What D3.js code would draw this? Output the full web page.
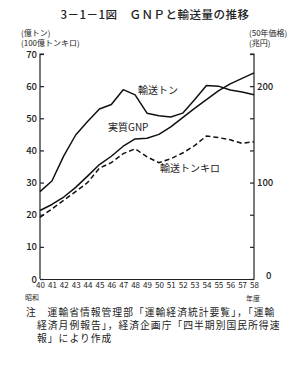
<!DOCTYPE html>
<html>
<head>
<meta charset="utf-8">
<script src="https://cdn.jsdelivr.net/npm/d3@7"></script>
<style>
  body { margin: 0; background: #fff; }
  text { font-family: "Noto Sans CJK JP", "DejaVu Sans", sans-serif; fill: #222; }
</style>
</head>
<body>
<div id="chart"></div>
<script>
// 昭和 fiscal years
const years = [40, 41, 42, 43, 44, 45, 46, 47, 48, 49, 50, 51, 52, 53, 54, 55, 56, 57, 58];
// 輸送トン (億トン)
const tonnage = [27.2, 30.5, 38.3, 44.8, 49, 52.9, 54.3, 58.9, 57.3, 51.6, 50.8, 50.4, 51.6, 55.8, 60.2, 60, 58.8, 58.2, 57.3];
// 輸送トンキロ (100億トンキロ)
const tonKm = [19.2, 21.8, 24.5, 27.2, 30, 34.5, 36.2, 39, 40.5, 38, 36.2, 37.4, 39.2, 41.5, 44.5, 44, 43.3, 42.2, 42.7];
// 実質GNP (50年価格 兆円)
const gnp = [71, 77.3, 85, 95, 106.7, 118.7, 127.3, 137.7, 145.3, 146, 150, 157.7, 167.3, 177, 186, 195, 202.3, 208, 213.7];

const leftTicks = [0, 10, 20, 30, 40, 50, 60, 70];
const rightLabels = [0, 100, 200];

const noteLines = [
  "注　運輸省情報管理部「運輸経済統計要覧」，「運輸",
  "経済月例報告」，経済企画庁「四半期別国民所得速",
  "報」により作成"
];

const w = 308, h = 367;
const padLeft = 40, padRight = 254, padTop = 54, padBottom = 279;

const svg = d3.select("#chart").append("svg")
  .attr("width", w)
  .attr("height", h);

svg.append("rect").attr("width", w).attr("height", h).attr("fill", "#fff");

const x = d3.scaleLinear().domain([40, 58]).range([padLeft, padRight]);
const yL = d3.scaleLinear().domain([0, 70]).range([padBottom, padTop]);
const yR = d3.scaleLinear().domain([0, 700 / 3]).range([padBottom, padTop]);

// title
svg.append("text")
  .attr("x", 155)
  .attr("y", 19)
  .attr("text-anchor", "middle")
  .style("font-size", "11.5px")
  .style("font-weight", 500)
  .style("letter-spacing", "0.5px")
  .text("3－1－1図　ＧＮＰと輸送量の推移");

// unit labels
svg.append("text").attr("x", 21).attr("y", 36).style("font-size", "8px").text("(億トン)");
svg.append("text").attr("x", 21).attr("y", 46).style("font-size", "8px").text("(100億トンキロ)");
svg.append("text").attr("x", 249).attr("y", 36).style("font-size", "8px").text("(50年価格)");
svg.append("text").attr("x", 249).attr("y", 46).style("font-size", "8px").text("(兆円)");

// left axis
const gl = svg.append("g")
  .attr("transform", `translate(${padLeft},0)`)
  .call(d3.axisRight(yL).tickValues(leftTicks).tickSize(4).tickFormat(""));
gl.select(".domain").attr("stroke", "#222").attr("stroke-width", 1.2).attr("d", `M4,${padTop}H0V${padBottom}`);
gl.selectAll(".tick line").attr("stroke", "#222").attr("stroke-width", 1.2);

svg.selectAll("text.ylab")
  .data(leftTicks)
  .enter()
  .append("text")
  .attr("class", "ylab")
  .attr("x", padLeft - 3)
  .attr("y", (d) => yL(d) + 3.5)
  .attr("text-anchor", "end")
  .style("font-size", "9.5px")
  .style("font-weight", 500)
  .text((d) => d);

// right axis (ticks line up with the left ones)
const gr = svg.append("g")
  .attr("transform", `translate(${padRight},0)`)
  .call(d3.axisLeft(yR).tickValues(leftTicks.map((d) => d * 10 / 3)).tickSize(4).tickFormat(""));
gr.select(".domain").attr("stroke", "#222").attr("stroke-width", 1.2).attr("d", `M-4,${padTop}H0V${padBottom}`);
gr.selectAll(".tick line").attr("stroke", "#222").attr("stroke-width", 1.2);

svg.selectAll("text.rlab")
  .data(rightLabels)
  .enter()
  .append("text")
  .attr("class", "rlab")
  .attr("x", (d) => (d == 0 ? padRight + 12 : padRight + 3))
  .attr("y", (d) => yR(d) + 3.5 - (d == 0 ? 4 : 0))
  .style("font-size", "9.5px")
  .style("font-weight", 500)
  .text((d) => d);

// bottom axis
const gb = svg.append("g")
  .attr("transform", `translate(0,${padBottom})`)
  .call(d3.axisBottom(x).tickValues(years).tickSize(0).tickFormat((d) => d));
gb.select(".domain").attr("stroke", "#222").attr("stroke-width", 1.2);
gb.selectAll(".tick text")
  .attr("dy", "0.95em")
  .attr("y", 1)
  .style("font-size", "8px")
  .style("font-family", "\"Noto Sans CJK JP\", sans-serif")
  .attr("fill", "#222");

svg.append("text").attr("x", 25).attr("y", 300).style("font-size", "7px").text("昭和");
svg.append("text").attr("x", 246).attr("y", 301).style("font-size", "7px").text("年度");

// lines
const lineL = d3.line().x((d, i) => x(years[i])).y((d) => yL(d));
const lineR = d3.line().x((d, i) => x(years[i])).y((d) => yR(d));

svg.append("path")
  .datum(tonnage)
  .attr("fill", "none")
  .attr("stroke", "#111")
  .attr("stroke-width", 1.5)
  .attr("stroke-linejoin", "round")
  .attr("d", lineL);

svg.append("path")
  .datum(gnp)
  .attr("fill", "none")
  .attr("stroke", "#111")
  .attr("stroke-width", 1.5)
  .attr("stroke-linejoin", "round")
  .attr("d", lineR);

svg.append("path")
  .datum(tonKm)
  .attr("fill", "none")
  .attr("stroke", "#111")
  .attr("stroke-width", 1.5)
  .attr("stroke-dasharray", "5,3")
  .attr("d", lineL);

// series labels
svg.append("text").attr("x", 138).attr("y", 94).style("font-size", "10px").text("輸送トン");
svg.append("text").attr("x", 108).attr("y", 131).style("font-size", "10px").text("実質GNP");
svg.append("text").attr("x", 160).attr("y", 172).style("font-size", "10px").text("輸送トンキロ");

// note
svg.selectAll("text.note")
  .data(noteLines)
  .enter()
  .append("text")
  .attr("class", "note")
  .attr("x", (d, i) => (i == 0 ? 26 : 37))
  .attr("y", (d, i) => 316 + i * 13)
  .style("font-size", "9.8px")
  .style("letter-spacing", "1px")
  .text((d) => d);
</script>
</body>
</html>
